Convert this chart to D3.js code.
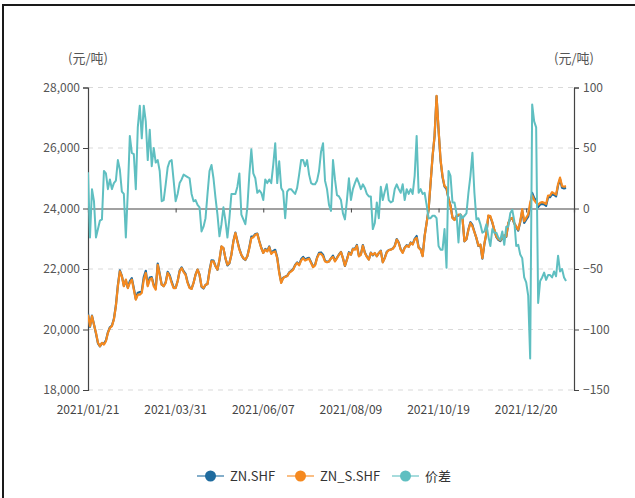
<!DOCTYPE html>
<html>
<head>
<meta charset="utf-8">
<script src="https://cdn.jsdelivr.net/npm/d3@7"></script>
<style>
  body { margin: 0; background: #fff; }
  svg { display: block; font-family: "Noto Sans CJK SC", "Noto Sans", sans-serif; }
</style>
</head>
<body>
<svg id="chart" width="635" height="498"></svg>
<script>
// x axis: trading-day categories, a label every 44 days
var tickLabels = ['2021/01/21', '2021/03/31', '2021/06/07', '2021/08/09', '2021/10/19', '2021/12/20'];
var tickEvery = 44;
var categoryCount = 245;

var leftTicks = [18000, 20000, 22000, 24000, 26000, 28000];
var rightTicks = [-150, -100, -50, 0, 50, 100];

// ZN_S.SHF
var znS = [
  20490, 20110, 20440, 20160, 19890, 19560, 19450, 19560, 19500, 19610,
  19890, 20050, 20110, 20330, 20770, 21430, 21920, 21760, 21430, 21650,
  21370, 21540, 21650, 21320, 20990, 21150, 21150, 21210, 21650, 21870,
  21430, 21650, 21700, 21430, 21320, 22140, 21810, 21480, 21430,
  21540, 21870, 21760, 21540, 21370, 21370, 21590, 21920, 22030, 21900,
  21810, 21540, 21370, 21340, 21540, 21810, 21980, 21810, 21430, 21370,
  21480, 21500, 21920, 22250, 22250, 22090, 21980, 22310, 22750, 22690,
  22360, 22140, 22200, 22470, 22910, 23190, 22910, 22640, 22470, 22360,
  22310, 22420, 22690, 23020, 23050, 23130, 23160, 22910, 22690, 22530,
  22640, 22580, 22720, 22500, 22560, 22580, 22360, 21870, 21540, 21700,
  21750, 21760, 21870, 21920, 21980, 22120, 22200, 22120, 22280, 22360,
  22280, 22310, 22340, 22200, 22060, 22120, 22360, 22500, 22500, 22420,
  22250, 22220, 22250, 22350, 22400, 22250, 22360, 22470, 22560, 22360,
  22110, 22310, 22530, 22470, 22660, 22640, 22770, 22420, 22470, 22770,
  22530, 22400, 22310, 22530, 22470, 22530, 22420, 22530, 22590,
  22220, 22360, 22550, 22620, 22640, 22670, 22750, 22970, 22860, 22640,
  22530, 22700, 22770, 22730, 22860, 22810, 22970, 23030, 22700, 22640,
  22420, 23080, 23520, 23970, 24850, 25730, 26400, 27720, 26620, 25620,
  25070, 24740, 24690, 24300, 24080, 23690, 23620, 23750, 23800, 23800,
  23690, 22920, 22990, 23300, 23520, 23410, 23220, 23030, 22770, 22810,
  22360, 22840, 23190, 23770, 23750, 23550, 23300, 23080, 22990,
  22950, 23030, 23120, 23080, 23520, 23660, 23690, 23520, 23410, 23300,
  23580, 23970, 23580, 23690, 23800, 24190, 24430, 24280, 24190, 24130,
  24190, 24210, 24190, 24150, 24430, 24430, 24540, 24500, 24460, 24800,
  25020, 24740, 24720, 24740
];

// 价差 (ZN.SHF - ZN_S.SHF), right axis
var spread = [
  30, -24, 16, 6, -24, -17, -10, -9, 31, 29,
  16, 24, 16, 21, 23, 40, 32, 14, 12, -24,
  14, 60, 46, 45, 16, 67, 85, 58, 85, 72,
  40, 65, 35, 50, 38, 40, 31, 6, 7,
  20, 34, 39, 40, 23, 6, 12, 21, 24, 28,
  27, 26, 25, 12, 6, 7, 3, 1, -19, -15,
  -8, 12, 31, 36, 25, 9, -5, -23, -13, 1,
  -10, -24, -8, 12, 12, 12, 18, 29, -5, -9,
  -13, 1, 28, 49, 29, 25, 13, 15, 13, 7,
  24, 21, 24, 21, 36, 54, 21, 39, 17, 14,
  -8, 14, 16, 16, 14, 12, 17, 28, 40, 40,
  35, 40, 28, 21, 20, 20, 23, 31, 47, 54,
  23, 16, 3, -2, 40, 24, 11, 10, 7, -4,
  -9, 7, 25, 7, 16, 21, 25, 21, 16, 20,
  17, 12, 10, 10, -17, -12, 5, -8, 18,
  7, 14, 20, 7, 5, 6, 16, 20, 16, 13,
  20, 7, 16, 12, 16, 12, 27, 60, 13, 16,
  12, 13, 3, -8, -8, -6, -6, -8, -31, -34,
  -34, -17, -49, 31, 27, 5, 5, -4, -28, -5,
  -8, -6, -4, 13, 27, 46, 13, -9, -8, -13,
  -20, -19, -13, -23, -31, -17, -20, -20, -24,
  -26, -19, -30, -15, -15, -4, -1, -10, -31, -30,
  -38, -41, -57, -61, -72, -124, 86, 72, 67, -78,
  -60, -57, -53, -59, -55, -55, -57, -52, -56, -39,
  -52, -50, -57, -60
];

// ZN.SHF sits the spread above ZN_S.SHF
var zn = znS.map((v, i) => v + spread[i]);

var colors = { zn: '#1f6b9e', znS: '#f5891f', spread: '#5fbfc1' };

var margin = { left: 88, right: 61, top: 87.5, bottom: 108 };
var width = 635, height = 498;

var svg = d3.select('#chart');

// outer frame
svg.append('path')
    .attr('d', 'M3,500V5H640')
    .attr('fill', 'none')
    .attr('stroke', '#1a1a1a')
    .attr('stroke-width', 2);

var x = d3.scaleLinear()
    .domain([0, categoryCount - 1])
    .range([margin.left, width - margin.right]);

var yL = d3.scaleLinear()
    .domain([18000, 28000])
    .range([height - margin.bottom, margin.top]);

var yR = d3.scaleLinear()
    .domain([-150, 100])
    .range([height - margin.bottom, margin.top]);

// grid
svg.append('g')
    .selectAll('line')
    .data(leftTicks.filter(d => d != 24000))
    .join('line')
    .attr('x1', x.range()[0])
    .attr('x2', x.range()[1])
    .attr('y1', d => yL(d))
    .attr('y2', d => yL(d))
    .attr('stroke', '#d9d9d9')
    .attr('stroke-dasharray', '5,5');

// left axis
let leftAxis = svg.append('g')
    .attr('transform', `translate(${margin.left},0)`)
    .call(d3.axisLeft(yL).tickValues(leftTicks).tickSize(5).tickPadding(3).tickFormat(d3.format(',')));

// right axis
let rightAxis = svg.append('g')
    .attr('transform', `translate(${width - margin.right},0)`)
    .call(d3.axisRight(yR).tickValues(rightTicks).tickSize(5).tickPadding(4));

[leftAxis, rightAxis].forEach(a => {
    a.select('.domain').attr('stroke', '#444').attr('stroke-width', 1.2);
    a.selectAll('.tick line').attr('stroke', '#444');
    a.selectAll('.tick text')
        .attr('fill', '#555')
        .style('font-size', '12px')
        .style('font-family', '"Noto Sans CJK SC", sans-serif');
});

// x axis on the zero line
let xTicks = tickLabels.map((d, i) => i * tickEvery);

let xAxis = svg.append('g')
    .attr('transform', `translate(0,${yR(0)})`)
    .call(d3.axisBottom(x).tickValues(xTicks).tickSize(4).tickFormat(''));
xAxis.select('.domain').attr('stroke', '#444').attr('stroke-width', 1.2);
xAxis.selectAll('.tick line').attr('stroke', '#444');

svg.append('g')
    .selectAll('text')
    .data(xTicks)
    .join('text')
    .attr('x', d => x(d))
    .attr('y', 414)
    .attr('text-anchor', 'middle')
    .attr('fill', '#444')
    .style('font-size', '12px')
    .text((d, i) => tickLabels[i]);

// axis names
svg.selectAll('.unit')
    .data([margin.left, width - margin.right])
    .join('text')
    .attr('class', 'unit')
    .attr('x', d => d)
    .attr('y', 63)
    .attr('text-anchor', 'middle')
    .attr('fill', '#555')
    .style('font-size', '13px')
    .text('(元/吨)');

// lines
svg.append('clipPath').attr('id', 'plot')
    .append('rect')
    .attr('x', margin.left)
    .attr('y', margin.top - 5)
    .attr('width', width - margin.left - margin.right)
    .attr('height', height - margin.top - margin.bottom + 10);

let lines = svg.append('g').attr('clip-path', 'url(#plot)');

let series = [
    { key: 'zn', values: zn, y: yL, w: 2.2 },
    { key: 'znS', values: znS, y: yL, w: 2.2 },
    { key: 'spread', values: spread, y: yR, w: 2 }
];

series.forEach(s => {
    let line = d3.line()
        .x((d, i) => x(i))
        .y(d => s.y(d));
    lines.append('path')
        .datum(s.values)
        .attr('d', line)
        .attr('fill', 'none')
        .attr('stroke', colors[s.key])
        .attr('stroke-width', s.w)
        .attr('stroke-linejoin', 'round');
});

// legend
let legendItems = [
    { name: 'ZN.SHF', color: colors.zn, x: 197 },
    { name: 'ZN_S.SHF', color: colors.znS, x: 287 },
    { name: '价差', color: colors.spread, x: 392 }
];

let legend = svg.append('g')
    .attr('transform', 'translate(0,476)')
    .selectAll('g')
    .data(legendItems)
    .join('g')
    .attr('transform', d => `translate(${d.x},0)`);

legend.append('line')
    .attr('x1', 0).attr('x2', 27)
    .attr('stroke', d => d.color)
    .attr('stroke-opacity', 0.55)
    .attr('stroke-width', 2);

legend.append('circle')
    .attr('cx', 13.5)
    .attr('r', 5.5)
    .attr('fill', d => d.color);

legend.append('text')
    .attr('x', 33)
    .attr('dy', '0.36em')
    .attr('fill', '#333')
    .style('font-size', '13px')
    .text(d => d.name);
</script>
</body>
</html>
